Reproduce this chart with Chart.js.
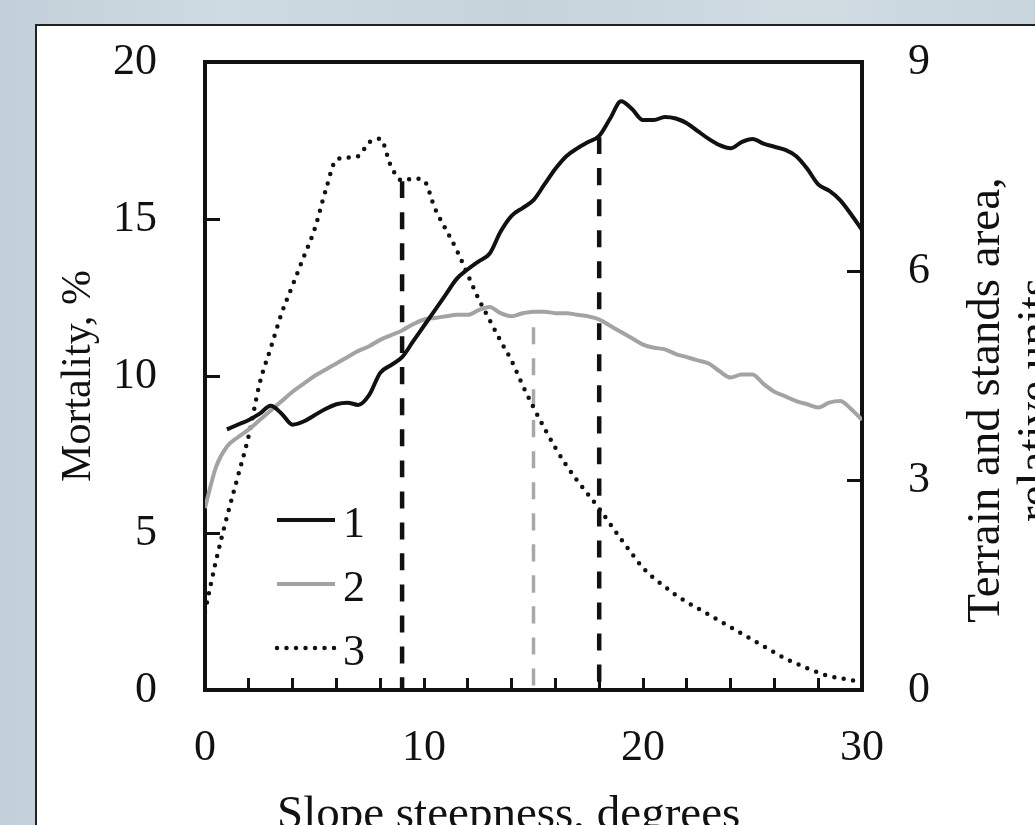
<!DOCTYPE html>
<html>
<head>
<meta charset="utf-8">
<script src="https://cdn.jsdelivr.net/npm/chart.js@4.4.1/dist/chart.umd.min.js"></script>
<style>
  html, body { margin: 0; padding: 0; overflow: hidden; }
  body {
    width: 1035px; height: 825px; position: relative;
    background: linear-gradient(90deg, #c2d0d9 0%, #cfdbe2 22%, #c6d3db 50%, #d1dce3 78%, #c8d5dd 100%);
  }
  #panel { position: absolute; left: 35px; top: 24px; width: 1100px; height: 900px; background: #fff; border: 2px solid #222; }
  #slope { position: absolute; left: 0; top: 0; }
</style>
</head>
<body>
<div id="panel"></div>
<canvas id="slope" width="1035" height="850"></canvas>
<script>
// Hangneigung in Grad (x)
const slope = [0, 0.5, 1, 1.5, 2, 2.5, 3, 3.5, 4, 4.5,
  5, 5.5, 6, 6.5, 7, 7.5, 8, 8.5, 9, 9.5,
  10, 10.5, 11, 11.5, 12, 12.5, 13, 13.5, 14, 14.5,
  15, 15.5, 16, 16.5, 17, 17.5, 18, 18.5, 19, 19.5,
  20, 20.5, 21, 21.5, 22, 22.5, 23, 23.5, 24, 24.5,
  25, 25.5, 26, 26.5, 27, 27.5, 28, 28.5, 29, 29.5, 30];

// Kurve 1 (Mortalität, %)
const curve1 = [null, null, 8.3, 8.45, 8.6, 8.8, 9.05, 8.8, 8.45, 8.55,
  8.75, 8.95, 9.1, 9.15, 9.08, 9.4, 10.1, 10.35, 10.6, 11.1,
  11.6, 12.1, 12.6, 13.1, 13.4, 13.65, 13.9, 14.6, 15.1, 15.35,
  15.6, 16.1, 16.6, 17.0, 17.25, 17.45, 17.65, 18.2, 18.75, 18.5,
  18.15, 18.15, 18.25, 18.2, 18.05, 17.8, 17.55, 17.35, 17.25, 17.45,
  17.55, 17.4, 17.3, 17.2, 17.0, 16.6, 16.1, 15.9, 15.6, 15.15, 14.65];

// Kurve 2 (Mortalität, %)
const curve2 = [5.8, 7.1, 7.75, 8.05, 8.3, 8.6, 8.9, 9.2, 9.5, 9.75,
  10.0, 10.2, 10.4, 10.6, 10.8, 10.95, 11.15, 11.3, 11.45, 11.65,
  11.8, 11.85, 11.9, 11.95, 11.95, 12.1, 12.2, 12.0, 11.9, 12.0,
  12.05, 12.05, 12.0, 12.0, 11.95, 11.9, 11.8, 11.6, 11.4, 11.2,
  11.0, 10.9, 10.85, 10.7, 10.6, 10.5, 10.4, 10.15, 9.95, 10.05,
  10.05, 9.75, 9.5, 9.35, 9.2, 9.1, 9.0, 9.15, 9.2, 8.95, 8.6];

// Kurve 3 (Fläche, relative Einheiten, rechte Achse)
const curve3 = [1.12, 1.85, 2.48, 3.06, 3.65, 4.4, 4.9, 5.4, 5.8, 6.2,
  6.6, 7.15, 7.6, 7.63, 7.65, 7.85, 7.9, 7.5, 7.3, 7.33,
  7.3, 6.9, 6.6, 6.3, 5.95, 5.6, 5.3, 5.0, 4.72, 4.37,
  4.05, 3.75, 3.47, 3.22, 3.0, 2.8, 2.6, 2.38, 2.16, 1.95,
  1.75, 1.6, 1.48, 1.36, 1.26, 1.17, 1.08, 0.99, 0.9, 0.81,
  0.72, 0.63, 0.54, 0.45, 0.38, 0.31, 0.25, 0.2, 0.17, 0.14, 0.12];

const seriesLabels = ['1', '2', '3'];
const xTickLabels = [0, 10, 20, 30];
const yLeftTicks = [0, 5, 10, 15, 20];
const yRightTicks = [0, 3, 6, 9];

// gestrichelte Hilfslinien
const markerX = [9, 15, 18];
const markerTop = [16.2, 11.55, 17.6];

const serif = '"Liberation Serif", "Times New Roman", serif';
Chart.defaults.font.family = serif;
Chart.defaults.font.size = 44;
Chart.defaults.color = '#111';

const toPoints = (values) => slope.map((x, i) => ({ x: x, y: values[i] }));

const markerColors = ['#111', '#a8a8a8', '#111'];
const markerSets = markerX.map((x, i) => ({
  label: 'marker',
  data: [{ x: x, y: markerTop[i] }, { x: x, y: 0 }],
  borderColor: markerColors[i],
  borderWidth: i === 1 ? 3.5 : 4.5,
  borderDash: [17, 14],
  pointRadius: 0,
  yAxisID: 'y'
}));

// feste Breite, ohne Extra-Abstand oben/unten
const fixWidth = (w) => (s) => {
  s.width = w;
  s.paddingTop = 0;
  s.paddingBottom = 0;
};

const extras = {
  id: 'extras',
  afterDraw(chart) {
    const { ctx, chartArea: a } = chart;
    ctx.save();
    // obere Rahmenlinie
    ctx.strokeStyle = '#111';
    ctx.lineWidth = 4;
    ctx.beginPath();
    ctx.moveTo(a.left - 2, a.top);
    ctx.lineTo(a.right + 2, a.top);
    ctx.stroke();

    // Legende im Diagramm
    ctx.font = '44px ' + serif;
    ctx.fillStyle = '#111';
    ctx.textAlign = 'left';
    ctx.textBaseline = 'alphabetic';
    for (let i = 0; i < 3; i++) {
      const ds = chart.data.datasets[i];
      const y = a.top + 458 + i * 64;
      ctx.strokeStyle = ds.borderColor;
      ctx.lineWidth = ds.borderWidth;
      ctx.lineCap = ds.borderCapStyle || 'butt';
      ctx.setLineDash(ds.borderDash || []);
      ctx.beginPath();
      ctx.moveTo(a.left + 72, y);
      ctx.lineTo(a.left + 130, y);
      ctx.stroke();
      ctx.setLineDash([]);
      ctx.fillText(ds.label, a.left + 138, y + 17);
    }

    // x-Achsentitel
    ctx.font = '47px ' + serif;
    ctx.fillText('Slope steepness, degrees', 277, 828);

    // rechter Achsentitel
    ctx.translate(999, 400);
    ctx.rotate(-Math.PI / 2);
    ctx.textAlign = 'center';
    ctx.fillText('Terrain and stands area,', 0, 0);
    ctx.fillText('relative units', 0, 50);
    ctx.restore();
  }
};

new Chart(document.getElementById('slope'), {
  type: 'line',
  data: {
    datasets: [{
      label: seriesLabels[0],
      data: toPoints(curve1),
      borderColor: '#111',
      borderWidth: 4,
      yAxisID: 'y'
    }, {
      label: seriesLabels[1],
      data: toPoints(curve2),
      borderColor: '#a3a3a3',
      borderWidth: 4,
      yAxisID: 'y'
    }, {
      label: seriesLabels[2],
      data: toPoints(curve3),
      borderColor: '#111',
      borderWidth: 4.5,
      borderDash: [0, 9.5],
      borderCapStyle: 'round',
      yAxisID: 'y2'
    }, ...markerSets]
  },
  options: {
    responsive: false,
    animation: false,
    layout: { padding: { top: 62, left: 0, right: 0, bottom: 0 } },
    elements: {
      point: { radius: 0 },
      line: { cubicInterpolationMode: 'monotone' }
    },
    scales: {
      x: {
        type: 'linear',
        min: xTickLabels[0],
        max: xTickLabels[xTickLabels.length - 1],
        border: { color: '#111', width: 4 },
        grid: { drawOnChartArea: false, tickLength: -12, tickWidth: 3, color: '#111' },
        ticks: {
          stepSize: 2,
          autoSkip: false,
          maxRotation: 0,
          padding: 44,
          callback: (v) => xTickLabels.includes(v) ? v : ''
        },
        afterFit: (s) => { s.height = 160; }
      },
      y: {
        position: 'left',
        min: yLeftTicks[0],
        max: yLeftTicks[yLeftTicks.length - 1],
        border: { color: '#111', width: 4 },
        grid: { drawOnChartArea: false, tickLength: -15, tickWidth: 3, color: '#111' },
        ticks: { stepSize: 5, autoSkip: false, padding: 63 },
        title: {
          display: true,
          text: 'Mortality, %',
          font: { size: 42 },
          padding: { top: 54, bottom: 0 }
        },
        afterFit: fixWidth(205)
      },
      y2: {
        position: 'right',
        min: yRightTicks[0],
        max: yRightTicks[yRightTicks.length - 1],
        border: { color: '#111', width: 4 },
        grid: { drawOnChartArea: false, tickLength: -15, tickWidth: 3, color: '#111' },
        ticks: { stepSize: 3, autoSkip: false, padding: 61 },
        afterFit: fixWidth(173)
      }
    },
    plugins: {
      legend: { display: false },
      tooltip: { enabled: false }
    }
  },
  plugins: [extras]
});
</script>
</body>
</html>
